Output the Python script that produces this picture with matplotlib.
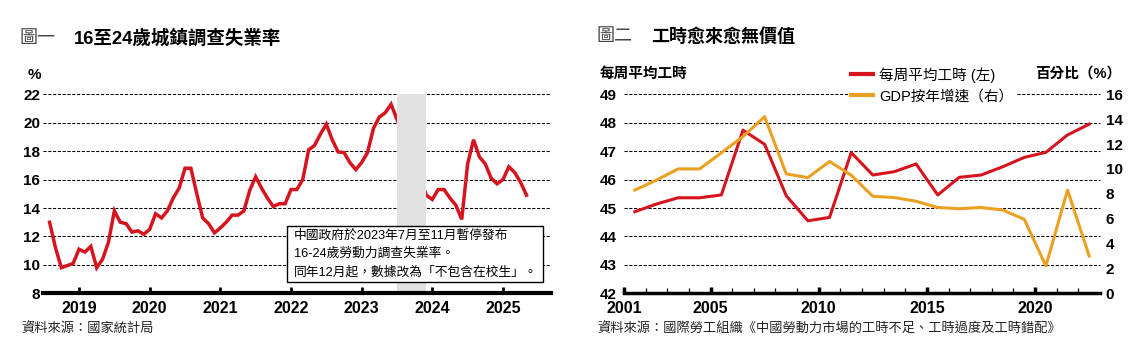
import numpy as np
import pandas as pd
import matplotlib
matplotlib.use('Agg')
import matplotlib.pyplot as plt
from matplotlib.patches import Rectangle

plt.rcParams['font.family'] = ['Liberation Sans', 'Noto Sans CJK TC']

W, H = 1135, 353
RED = '#D7141E'
ORANGE = '#EBA021'
BAND = '#E1E1E1'

# ---- chart 1: youth unemployment, monthly from Aug 2018 (Jul-Nov 2023 not published)
youth_months = pd.date_range('2018-08-01', '2025-05-01', freq='MS')
youth_rate = [
    13.0, 11.2, 9.8, 9.95, 10.1,                                              # 2018 Aug-Dec
    11.1, 10.9, 11.3, 9.8, 10.4, 11.6, 13.8, 13.0, 12.9, 12.3, 12.4, 12.15,   # 2019
    12.5, 13.6, 13.3, 13.8, 14.7, 15.4, 16.8, 16.8, 15.0, 13.3, 12.9, 12.25,  # 2020
    12.6, 13.0, 13.5, 13.5, 13.8, 15.25, 16.2, 15.4, 14.7, 14.1, 14.3, 14.3,  # 2021
    15.3, 15.3, 16.0, 18.1, 18.4, 19.2, 19.9, 18.8, 17.95, 17.9, 17.2, 16.7,  # 2022
    17.2, 17.9, 19.6, 20.4, 20.7, 21.3, np.nan, np.nan, np.nan, np.nan, np.nan, 14.9,  # 2023
    14.6, 15.3, 15.3, 14.7, 14.2, 13.2, 17.1, 18.8, 17.6, 17.1, 16.1, 15.7,   # 2024
    16.0, 16.9, 16.5, 15.8, 14.9,                                             # 2025 Jan-May
]
youth_years = [2019, 2020, 2021, 2022, 2023, 2024, 2025]
youth_yticks = [8, 10, 12, 14, 16, 18, 20, 22]
pause_start, pause_end = 2023 + 6 / 12, 2023 + 11 / 12
note_lines = ['中國政府於2023年7月至11月暫停發布',
              '16-24歲勞動力調查失業率。',
              '同年12月起，數據改為「不包含在校生」。']

# ---- chart 2: weekly hours vs GDP growth
years2 = list(range(2001, 2023))
weekly_hours = [44.87, 45.14, 45.36, 45.36, 45.46, 47.74, 47.24, 45.43, 44.55, 44.67, 46.95,
                46.16, 46.28, 46.55, 45.46, 46.08, 46.16, 46.45, 46.78, 46.96, 47.57, 47.95]
gdp_growth = [8.3, 9.1, 10.0, 10.0, 11.3, 12.6, 14.2, 9.6, 9.3, 10.6, 9.5,
              7.8, 7.7, 7.4, 6.9, 6.8, 6.9, 6.7, 5.95, 2.2, 8.3, 3.0]
hours_ticks = [42, 43, 44, 45, 46, 47, 48, 49]
pct_ticks = [0, 2, 4, 6, 8, 10, 12, 14, 16]
year_labels2 = [2001, 2005, 2010, 2015, 2020]

fig = plt.figure(figsize=(W / 100, H / 100), dpi=100)
fig.patch.set_facecolor('white')

def fx(px):
    return px / W

def fy(py):
    return 1 - py / H

def dashed_grid(ax):
    ax.yaxis.grid(True, color='black', linestyle=(0, (3, 1.6)), linewidth=0.75, zorder=1)
    for gl in ax.get_ygridlines():
        gl.set_clip_on(False)
    ax.set_axisbelow(True)

# ================= chart 1 =================
ax1 = fig.add_axes([fx(43), fy(293.3), fx(551) - fx(43), (293.3 - 94.3) / H])
t = youth_months.year + (youth_months.month - 1) / 12
rate = pd.Series(youth_rate, index=t).dropna()
ax1.plot(rate.index, rate.values, color=RED, lw=2.5, solid_joinstyle='miter', zorder=2)
ax1.axvspan(pause_start, pause_end, color=BAND, lw=0, zorder=3)
ax1.set_xlim(2018.49, 2025.68)
ax1.set_ylim(8, 22)
ax1.set_yticks(youth_yticks)
ax1.set_yticklabels([str(v) for v in youth_yticks], fontweight='bold', fontsize=11)
ax1.set_xticks(youth_years)
ax1.set_xticklabels([str(y) for y in youth_years], fontweight='bold', fontsize=11.5)
ax1.tick_params(axis='y', length=0, pad=2)
ax1.tick_params(axis='x', direction='in', length=4.5, width=2, pad=5.5)
for s in ['left', 'right', 'top']:
    ax1.spines[s].set_visible(False)
ax1.spines['bottom'].set_linewidth(3)
ax1.spines['bottom'].set_zorder(5)
dashed_grid(ax1)

box = Rectangle(((287 - 43) / 508, (293.3 - 282.3) / 199), (543 - 287) / 508, (282.3 - 225.7) / 199,
                transform=ax1.transAxes, facecolor='white', edgecolor='black', lw=1, zorder=4)
ax1.add_patch(box)
for i, line in enumerate(note_lines):
    ax1.text((294 - 43) / 508, (293.3 - (235.5 + i * 18.5)) / 199, line, transform=ax1.transAxes,
             fontsize=9.2, va='center', ha='left', zorder=5,
             family=['Liberation Sans', 'Noto Sans CJK TC'])

fig.text(fx(20), fy(38), '圖一', fontsize=13, color='#444444', va='center')
fig.text(fx(74), fy(38), '16至24歲城鎮調查失業率', fontsize=13.3, fontweight='bold', va='center')
fig.text(fx(28), fy(75), '%', fontsize=11, fontweight='bold', va='center')
fig.text(fx(21), fy(329), '資料來源：國家統計局', fontsize=9.5, color='#222222', va='center')

# ================= chart 2 =================
ax2 = fig.add_axes([fx(624), fy(293.3), fx(1100) - fx(624), (293.3 - 94.3) / H])
x2 = np.array(years2) + 0.5
l1, = ax2.plot(x2, weekly_hours, color=RED, lw=2.2, label='每周平均工時 (左)', zorder=3)
ax2.set_xlim(2001, 2023)
ax2.set_ylim(42, 49)
ax2.set_yticks(hours_ticks)
ax2.set_yticklabels([str(v) for v in hours_ticks], fontweight='bold', fontsize=11)
ax2.set_xticks(year_labels2)
ax2.set_xticklabels([str(y) for y in year_labels2], fontweight='bold', fontsize=11.5)
ax2.set_xticks(range(2002, 2023), minor=True)
ax2.tick_params(axis='y', length=0, pad=5)
ax2.tick_params(axis='x', which='major', direction='in', length=4.5, width=2.5, pad=5.5)
ax2.tick_params(axis='x', which='minor', direction='in', length=3.5, width=0.9)
for s in ['left', 'right', 'top']:
    ax2.spines[s].set_visible(False)
ax2.spines['bottom'].set_linewidth(2.5)
dashed_grid(ax2)

ax2r = ax2.twinx()
l2, = ax2r.plot(x2, gdp_growth, color=ORANGE, lw=2.2, label='GDP按年增速（右）', zorder=3)
ax2r.set_ylim(0, 16)
ax2r.set_yticks(pct_ticks)
ax2r.set_yticklabels([str(v) for v in pct_ticks], fontweight='bold', fontsize=11)
ax2r.tick_params(axis='y', length=0, pad=4)
for s in ['left', 'right', 'top', 'bottom']:
    ax2r.spines[s].set_visible(False)

leg = ax2r.legend(handles=[l1, l2], loc='upper left', bbox_to_anchor=(fx(848), fy(64)),
                  bbox_transform=fig.transFigure, fontsize=10.5, handlelength=1.5,
                  handletextpad=0.45, labelspacing=0.45, borderpad=0.2, borderaxespad=0,
                  frameon=True, fancybox=False, framealpha=1, facecolor='white', edgecolor='none')
for h in leg.legend_handles:
    h.set_linewidth(3)
leg.set_zorder(6)

fig.text(fx(597), fy(37), '圖二', fontsize=13, color='#444444', va='center')
fig.text(fx(651), fy(37), '工時愈來愈無價值', fontsize=13, fontweight='bold', va='center')
fig.text(fx(600), fy(74), '每周平均工時', fontsize=10.5, fontweight='bold', va='center')
fig.text(fx(1121), fy(74), '百分比（%）', fontsize=10.5, fontweight='bold', va='center', ha='right')
fig.text(fx(597), fy(329), '資料來源：國際勞工組織《中國勞動力市場的工時不足、工時過度及工時錯配》',
         fontsize=9.5, color='#222222', va='center')

fig.savefig('out.png', dpi=100, facecolor='white')
